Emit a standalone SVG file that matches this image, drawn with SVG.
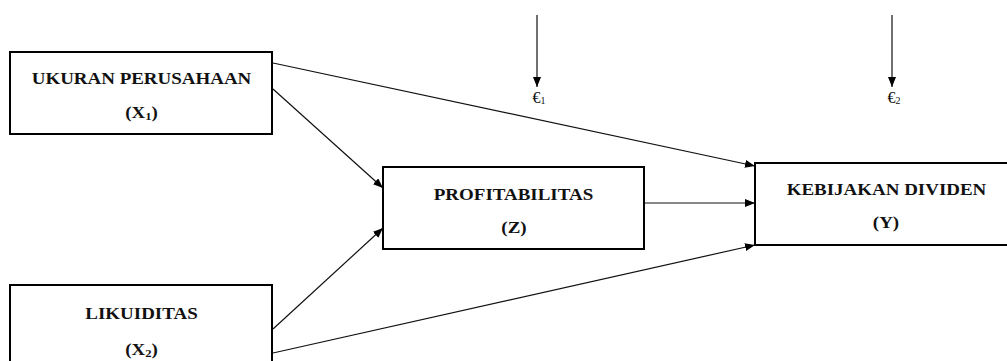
<svg xmlns="http://www.w3.org/2000/svg" width="1007" height="361" viewBox="0 0 1007 361">
<style>
.box{fill:#fff;stroke:#000;stroke-width:2}
.lbl{font-family:"Liberation Serif","Times New Roman",serif;font-weight:bold;font-size:16.5px;fill:#111;text-anchor:middle}
.sub{font-size:11px}
.eps{font-family:"Liberation Serif","Times New Roman",serif;font-size:16px;fill:#111;text-anchor:middle}
.con{stroke:#111;stroke-width:1.2;fill:none;marker-end:url(#ah)}
</style>
<defs>
<marker id="ah" markerUnits="userSpaceOnUse" markerWidth="11" markerHeight="9" refX="10" refY="4" orient="auto">
<path d="M0,0 L10,4 L0,8 z" fill="#000"/>
</marker>
</defs>
<rect width="1007" height="361" fill="#fff"/>
<g id="connectors">
<path class="con" d="M273,63 L755,166"/>
<path class="con" d="M273,89 L383,188"/>
<path class="con" d="M273,329 L383,228"/>
<path class="con" d="M273,353 L755,245"/>
<path class="con" d="M644,203 L755,203"/>
<path class="con" d="M537,15 L537,87"/>
<path class="con" d="M892,15 L892,87"/>
</g>
<g id="node-x1">
<rect class="box" x="10" y="52" width="262" height="82"/>
<text class="lbl" transform="translate(141.5,84) scale(1.15,1)">UKURAN PERUSAHAAN</text>
<text class="lbl" transform="translate(141.5,118) scale(1.15,1)">(X<tspan class="sub" dy="2">1</tspan><tspan dy="-2">)</tspan></text>
</g>
<g id="node-z">
<rect class="box" x="383" y="167" width="261" height="82"/>
<text class="lbl" transform="translate(513.5,200) scale(1.15,1)">PROFITABILITAS</text>
<text class="lbl" transform="translate(514,233) scale(1.15,1)">(Z)</text>
</g>
<g id="node-y">
<rect class="box" x="755" y="163" width="262" height="82"/>
<text class="lbl" transform="translate(886.5,195) scale(1.15,1)">KEBIJAKAN DIVIDEN</text>
<text class="lbl" transform="translate(886,228) scale(1.15,1)">(Y)</text>
</g>
<g id="node-x2">
<rect class="box" x="10" y="285" width="262" height="90"/>
<text class="lbl" transform="translate(141.5,319) scale(1.15,1)">LIKUIDITAS</text>
<text class="lbl" transform="translate(141.5,355) scale(1.15,1)">(X<tspan class="sub" dy="2">2</tspan><tspan dy="-2">)</tspan></text>
</g>
<g id="eps1">
<text class="eps" x="539" y="103">€<tspan font-size="10" dy="1">1</tspan></text>
</g>
<g id="eps2">
<text class="eps" x="894" y="103">€<tspan font-size="10" dy="1">2</tspan></text>
</g>
</svg>
